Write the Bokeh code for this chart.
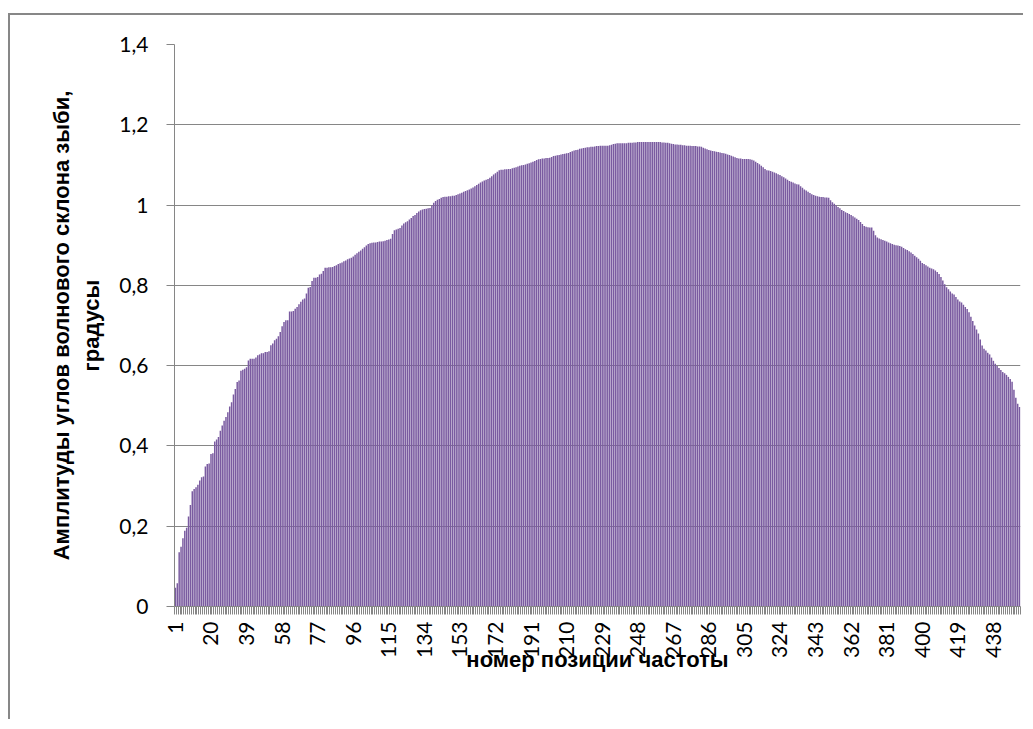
import math
from bokeh.plotting import figure
from bokeh.models import Range1d, FixedTicker
from bokeh.embed import file_html
from bokeh.resources import INLINE

# ---- data ----
values = [
    0.047, 0.058, 0.135, 0.149, 0.170, 0.189, 0.196, 0.224, 0.253, 0.287,
    0.293, 0.297, 0.303, 0.314, 0.322, 0.324, 0.349, 0.355, 0.356, 0.380,
    0.382, 0.411, 0.416, 0.422, 0.438, 0.451, 0.463, 0.472, 0.484, 0.498,
    0.509, 0.528, 0.542, 0.559, 0.563, 0.587, 0.590, 0.592, 0.596, 0.613,
    0.617, 0.617, 0.617, 0.620, 0.626, 0.628, 0.631, 0.631, 0.634, 0.634,
    0.636, 0.651, 0.655, 0.663, 0.667, 0.673, 0.684, 0.698, 0.709, 0.713,
    0.713, 0.735, 0.735, 0.736, 0.742, 0.746, 0.753, 0.759, 0.765, 0.767,
    0.780, 0.794, 0.796, 0.811, 0.819, 0.819, 0.821, 0.827, 0.829, 0.836,
    0.844, 0.844, 0.845, 0.845, 0.846, 0.848, 0.850, 0.853, 0.855, 0.857,
    0.860, 0.862, 0.865, 0.867, 0.869, 0.872, 0.876, 0.880, 0.884, 0.887,
    0.891, 0.895, 0.899, 0.903, 0.905, 0.906, 0.907, 0.907, 0.908, 0.909,
    0.909, 0.910, 0.911, 0.913, 0.914, 0.916, 0.928, 0.937, 0.939, 0.941,
    0.943, 0.949, 0.954, 0.957, 0.960, 0.964, 0.968, 0.973, 0.975, 0.980,
    0.984, 0.987, 0.989, 0.990, 0.991, 0.992, 0.993, 0.999, 1.006, 1.010,
    1.013, 1.015, 1.018, 1.020, 1.021, 1.021, 1.022, 1.022, 1.023, 1.023,
    1.025, 1.027, 1.029, 1.031, 1.033, 1.035, 1.037, 1.039, 1.041, 1.044,
    1.047, 1.050, 1.053, 1.056, 1.059, 1.061, 1.063, 1.065, 1.068, 1.072,
    1.076, 1.079, 1.083, 1.087, 1.088, 1.088, 1.089, 1.089, 1.090, 1.090,
    1.092, 1.093, 1.094, 1.096, 1.098, 1.099, 1.100, 1.101, 1.103, 1.104,
    1.106, 1.108, 1.110, 1.112, 1.114, 1.115, 1.116, 1.116, 1.117, 1.117,
    1.118, 1.120, 1.122, 1.123, 1.124, 1.125, 1.126, 1.127, 1.128, 1.129,
    1.130, 1.132, 1.134, 1.136, 1.137, 1.138, 1.140, 1.141, 1.142, 1.143,
    1.144, 1.144, 1.145, 1.145, 1.146, 1.147, 1.147, 1.148, 1.148, 1.148,
    1.148, 1.148, 1.149, 1.150, 1.152, 1.153, 1.154, 1.154, 1.154, 1.154,
    1.154, 1.154, 1.155, 1.155, 1.155, 1.156, 1.156, 1.157, 1.157, 1.157,
    1.157, 1.157, 1.157, 1.157, 1.157, 1.157, 1.157, 1.157, 1.157, 1.157,
    1.156, 1.156, 1.155, 1.155, 1.154, 1.153, 1.152, 1.151, 1.151, 1.150,
    1.150, 1.149, 1.149, 1.148, 1.148, 1.148, 1.147, 1.147, 1.147, 1.146,
    1.146, 1.145, 1.143, 1.141, 1.139, 1.137, 1.136, 1.135, 1.134, 1.133,
    1.132, 1.131, 1.130, 1.129, 1.128, 1.126, 1.125, 1.123, 1.121, 1.119,
    1.117, 1.116, 1.116, 1.115, 1.115, 1.115, 1.115, 1.114, 1.113, 1.111,
    1.108, 1.105, 1.102, 1.098, 1.094, 1.090, 1.087, 1.086, 1.085, 1.083,
    1.081, 1.079, 1.077, 1.075, 1.072, 1.069, 1.066, 1.063, 1.060, 1.058,
    1.056, 1.054, 1.052, 1.051, 1.047, 1.043, 1.039, 1.036, 1.033, 1.030,
    1.027, 1.025, 1.023, 1.022, 1.021, 1.020, 1.020, 1.019, 1.019, 1.018,
    1.012, 1.007, 1.003, 0.999, 0.995, 0.992, 0.988, 0.985, 0.982, 0.980,
    0.978, 0.975, 0.972, 0.969, 0.966, 0.963, 0.958, 0.953, 0.948, 0.946,
    0.945, 0.944, 0.944, 0.936, 0.925, 0.919, 0.917, 0.915, 0.913, 0.911,
    0.909, 0.907, 0.905, 0.903, 0.901, 0.900, 0.899, 0.898, 0.896, 0.893,
    0.890, 0.888, 0.885, 0.882, 0.878, 0.874, 0.870, 0.866, 0.861, 0.856,
    0.853, 0.850, 0.847, 0.844, 0.842, 0.840, 0.837, 0.833, 0.828, 0.821,
    0.812, 0.803, 0.795, 0.790, 0.785, 0.780, 0.777, 0.771, 0.765, 0.760,
    0.757, 0.752, 0.746, 0.741, 0.733, 0.722, 0.711, 0.700, 0.690, 0.680,
    0.665, 0.650, 0.642, 0.638, 0.632, 0.628, 0.620, 0.612, 0.605, 0.599,
    0.594, 0.589, 0.584, 0.581, 0.577, 0.572, 0.567, 0.560, 0.540, 0.520,
    0.505, 0.497,
]
positions = list(range(1, len(values) + 1))
x_tick_labels = [1, 20, 39, 58, 77, 96, 115, 134, 153, 172, 191, 210, 229,
                 248, 267, 286, 305, 324, 343, 362, 381, 400, 419, 438]
y_ticks = [0, 0.2, 0.4, 0.6, 0.8, 1, 1.2, 1.4]
y_tick_text = ["0", "0,2", "0,4", "0,6", "0,8", "1", "1,2", "1,4"]
y_title = "Амплитуды углов волнового склона зыби,\nградусы"
x_title = "номер позиции частоты"

N = len(values)
GRAY = "#868686"
BAR = "#7a5ba0"

p = figure(width=1015, height=706, output_backend="svg", toolbar_location=None,
           x_range=Range1d(0.5, N + 0.5), y_range=Range1d(0, 1.4),
           min_border_left=164, min_border_right=5, min_border_top=29,
           min_border_bottom=115, background_fill_color="white",
           border_fill_color="white", outline_line_color=None)
p.styles = {"border-top": "2px solid #878787", "border-left": "2px solid #878787",
            "margin-top": "13px", "margin-left": "8px"}

p.vbar(x=positions, top=values, width=0.8, bottom=0, fill_color=BAR,
       line_color=None)

# grid
p.xgrid.grid_line_color = None
p.ygrid.ticker = FixedTicker(ticks=y_ticks)
p.ygrid.grid_line_color = GRAY
p.ygrid.grid_line_width = 1

# y axis
p.yaxis.ticker = FixedTicker(ticks=y_ticks)
p.yaxis.major_label_overrides = {t: s for t, s in zip(y_ticks, y_tick_text)}
p.yaxis.axis_line_color = GRAY
p.yaxis.major_tick_line_color = GRAY
p.yaxis.major_tick_out = 8
p.yaxis.major_tick_in = 0
p.yaxis.minor_tick_line_color = None
p.yaxis.major_label_standoff = 18
p.yaxis.major_label_text_font = "Lato"
p.yaxis.major_label_text_font_size = "21px"
p.yaxis.major_label_text_color = "#000000"
p.yaxis.axis_label = y_title
p.yaxis.axis_label_standoff = 12
p.yaxis.axis_label_text_font = "Liberation Sans"
p.yaxis.axis_label_text_font_style = "bold"
p.yaxis.axis_label_text_font_size = "22px"
p.yaxis.axis_label_text_color = "#000000"

# x axis
p.xaxis.ticker = FixedTicker(ticks=x_tick_labels,
                             minor_ticks=[i + 0.5 for i in range(0, N + 1)])
p.xaxis.major_label_orientation = math.pi / 2
p.xaxis.axis_line_color = GRAY
p.xaxis.major_tick_line_color = None
p.xaxis.minor_tick_line_color = GRAY
p.xaxis.minor_tick_out = 8
p.xaxis.minor_tick_in = 0
p.xaxis.major_tick_out = 8
p.xaxis.major_label_standoff = 7
p.xaxis.major_label_text_font = "Lato"
p.xaxis.major_label_text_font_size = "21px"
p.xaxis.major_label_text_color = "#000000"
p.xaxis.axis_label = x_title
p.xaxis.axis_label_standoff = -14
p.xaxis.axis_label_text_font = "Liberation Sans"
p.xaxis.axis_label_text_font_style = "bold"
p.xaxis.axis_label_text_font_size = "22px"
p.xaxis.axis_label_text_color = "#000000"

open("out.html", "w").write(file_html(p, INLINE))
